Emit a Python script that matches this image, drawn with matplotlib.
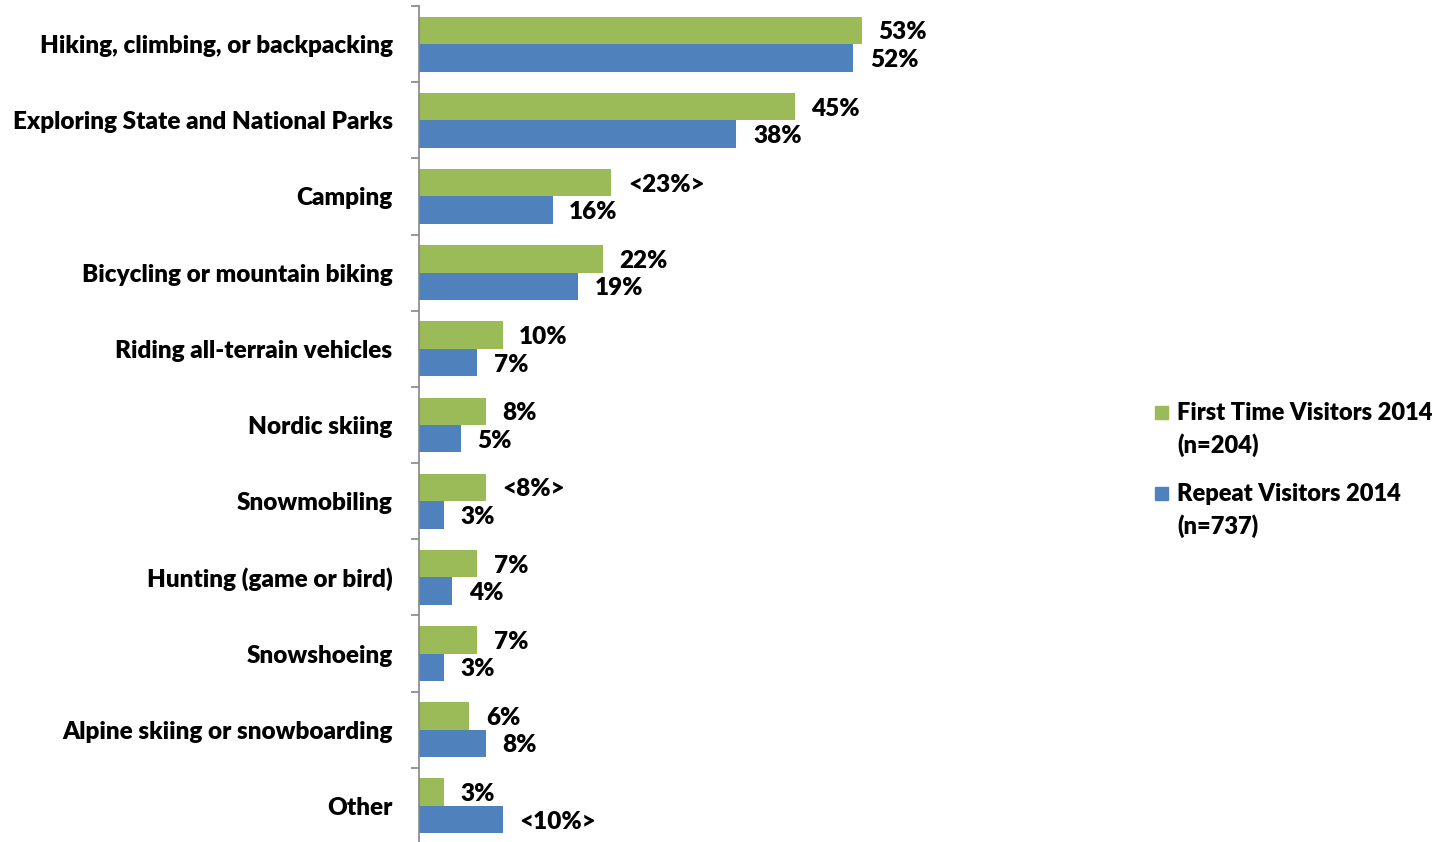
import matplotlib
matplotlib.use('Agg')
import matplotlib.pyplot as plt
from matplotlib.patches import Rectangle
import numpy as np

plt.rcParams['font.family'] = ['Lato', 'DejaVu Sans']
plt.rcParams['font.weight'] = 'heavy'

activities = [
    'Hiking, climbing, or backpacking',
    'Exploring State and National Parks',
    'Camping',
    'Bicycling or mountain biking',
    'Riding all-terrain vehicles',
    'Nordic skiing',
    'Snowmobiling',
    'Hunting (game or bird)',
    'Snowshoeing',
    'Alpine skiing or snowboarding',
    'Other',
]
first_time = [53, 45, 23, 22, 10, 8, 8, 7, 7, 6, 3]
repeat = [52, 38, 16, 19, 7, 5, 3, 4, 3, 8, 10]
# values flagged as significant differences get angle brackets
first_flag = [False, False, True, False, False, False, True, False, False, False, False]
repeat_flag = [False, False, False, False, False, False, False, False, False, False, True]
series_names = ['First Time Visitors 2014\n(n=204)', 'Repeat Visitors 2014\n(n=737)']

green = '#9BBB59'
blue = '#4F81BD'
fs = 17.5
wt = 'heavy'

W, H = 1451, 842
fig = plt.figure(figsize=(W / 100, H / 100), dpi=100)
ax = fig.add_axes([419 / W, -2 / H, 668 / W, 838 / H])

y = np.arange(len(activities))
h = 0.36
ax.barh(y - h / 2, first_time, height=h, color=green)
ax.barh(y + h / 2, repeat, height=h, color=blue)

def fmt(v, flag):
    return f'<{v}%>' if flag else f'{v}%'

for i in range(len(activities)):
    ax.text(first_time[i] + 2.0, y[i] - h / 2, fmt(first_time[i], first_flag[i]),
            va='center_baseline', ha='left', fontsize=fs, fontweight=wt)
    ax.text(repeat[i] + 2.0, y[i] + h / 2, fmt(repeat[i], repeat_flag[i]),
            va='center_baseline', ha='left', fontsize=fs, fontweight=wt)

ax.set_xlim(0, 80)
ax.set_ylim(len(activities) - 0.5, -0.5)
ax.set_yticks(y)
ax.set_yticklabels(activities, fontsize=fs, fontweight=wt)
ax.set_yticks(np.arange(len(activities) + 1) - 0.5, minor=True)
ax.tick_params(axis='y', which='major', length=0, pad=19)
ax.tick_params(axis='y', which='minor', length=6, color='#868686', width=1.2)
ax.set_xticks([])

for s in ['top', 'right', 'bottom']:
    ax.spines[s].set_visible(False)
ax.spines['left'].set_color('#868686')
ax.spines['left'].set_linewidth(1.2)

# legend: square aligned with the first line of each two-line label
for k, (name, col) in enumerate(zip(series_names, [green, blue])):
    ytop = 412 + 81 * k
    fig.add_artist(Rectangle((1155 / W, 1 - (ytop + 7) / H), 13 / W, 13 / H,
                             transform=fig.transFigure, color=col))
    fig.text(1177 / W, 1 - (ytop - 10) / H, name, ha='left', va='top',
             fontsize=17, fontweight=wt, linespacing=1.5)

fig.savefig('out.png', dpi=100)
